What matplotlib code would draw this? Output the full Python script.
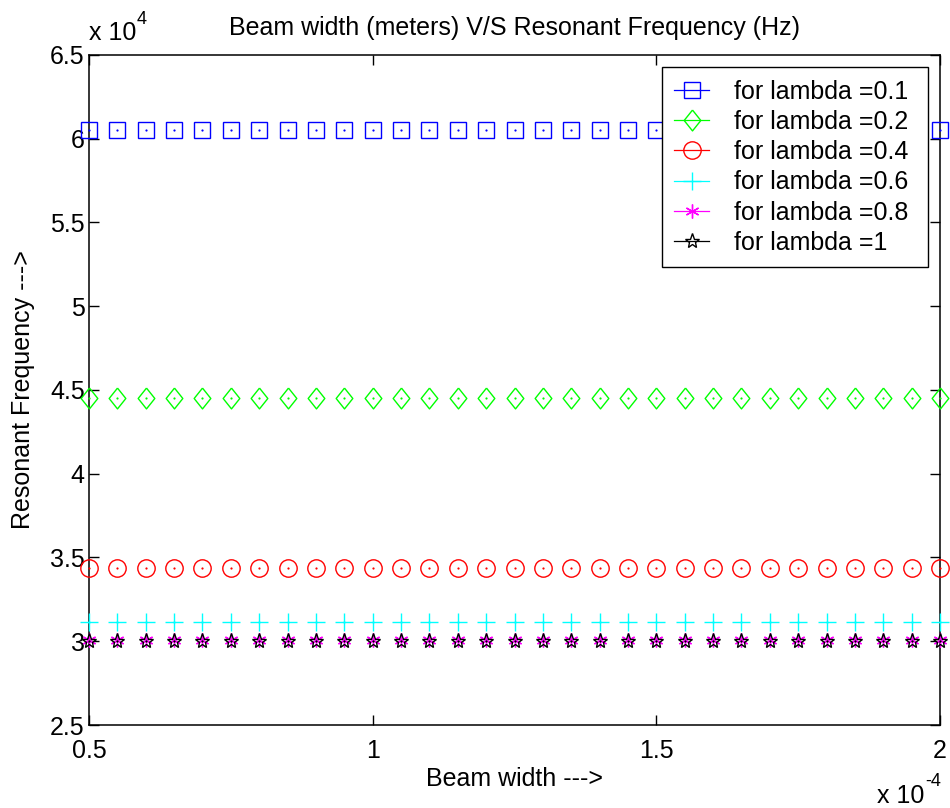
import numpy as np
import matplotlib.pyplot as plt
from matplotlib.lines import Line2D

plt.rcParams['font.family'] = ['Liberation Sans', 'DejaVu Sans']

# beam width grid (x 1e-4 m)
beam_width = [0.50, 0.55, 0.60, 0.65, 0.70, 0.75, 0.80, 0.85, 0.90, 0.95,
              1.00, 1.05, 1.10, 1.15, 1.20, 1.25, 1.30, 1.35, 1.40, 1.45,
              1.50, 1.55, 1.60, 1.65, 1.70, 1.75, 1.80, 1.85, 1.90, 1.95, 2.00]

# resonant frequency for each lambda (x 1e4 Hz), flat over beam width
lambdas = ['0.1', '0.2', '0.4', '0.6', '0.8', '1']
freq = [6.05, 4.455, 3.44, 3.115, 3.005, 3.0]

FS = 18

diamond = [(0, 0.5), (0.4, 0), (0, -0.5), (-0.4, 0), (0, 0.5)]
styles = [
    dict(color='#0000ff', marker='s', ms=12, mfc='none'),
    dict(color='#00ff00', marker=diamond, ms=15, mfc='none'),
    dict(color='#ff0000', marker='o', ms=12.5, mfc='none'),
    dict(color='#00ffff', marker='+', ms=13, mfc='none'),
    dict(color='#ff00ff', marker=(6, 2, 0), ms=10, mfc='none'),
    dict(color='#000000', marker='*', ms=11, mfc='none'),
]

fig = plt.figure(figsize=(9.5, 8.08), dpi=100)
ax = fig.add_axes([0.0937, 0.1027, 0.8958, 0.8293])

x = np.array(beam_width)
handles = []
for lam, f, st in zip(lambdas, freq, styles):
    y = np.full(len(x), f)
    ax.plot(x, y, linestyle='none', mew=1.0, clip_on=False, zorder=3, **st)
    # tiny centre dot left by the zero-length line segments
    ax.plot(x, y, linestyle='none', marker='o', ms=1.6, color=st['color'],
            mew=0, clip_on=False, zorder=4)
    handles.append(Line2D([], [], linestyle='-', lw=0.9, mew=1.0,
                          label='for lambda =' + lam + ' ', **st))

ax.set_xlim(0.5, 2.0)
ax.set_ylim(2.5, 6.5)
ax.set_xticks([0.5, 1, 1.5, 2])
ax.set_xticklabels(['0.5', '1', '1.5', '2'])
ax.set_yticks([2.5, 3, 3.5, 4, 4.5, 5, 5.5, 6, 6.5])
ax.set_yticklabels(['2.5', '3', '3.5', '4', '4.5', '5', '5.5', '6', '6.5'])

ax.tick_params(direction='in', length=7, width=1, top=True, right=True,
               labelsize=FS, colors='black')
ax.tick_params(axis='y', pad=3)
ax.tick_params(axis='x', pad=10)
for sp in ax.spines.values():
    sp.set_linewidth(1.1)

ax.set_title('Beam width (meters) V/S Resonant Frequency (Hz)', fontsize=FS, pad=14)
ax.set_xlabel('Beam width --->', fontsize=FS, labelpad=3)
ax.set_ylabel('Resonant Frequency --->', fontsize=FS, labelpad=11)

# exponent notes written out as plain text with raised powers
ax.text(0.0, 1.0224, 'x 10', transform=ax.transAxes, fontsize=FS,
        ha='left', va='baseline')
ax.text(0.0564, 1.046, '4', transform=ax.transAxes, fontsize=FS * 0.72,
        ha='left', va='baseline')
ax.text(0.982, -0.1164, 'x 10', transform=ax.transAxes, fontsize=FS,
        ha='right', va='baseline')
ax.text(0.983, -0.091, '-4', transform=ax.transAxes, fontsize=FS * 0.72,
        ha='left', va='baseline')

leg = ax.legend(handles=handles, loc='upper right', bbox_to_anchor=(0.986, 0.982),
                borderaxespad=0, fontsize=FS, frameon=True, fancybox=False,
                edgecolor='black', framealpha=1, handlelength=1.4,
                handletextpad=1.0, labelspacing=0.25, borderpad=0.5)
leg.get_frame().set_linewidth(1.0)

fig.savefig('out.png', dpi=100)
